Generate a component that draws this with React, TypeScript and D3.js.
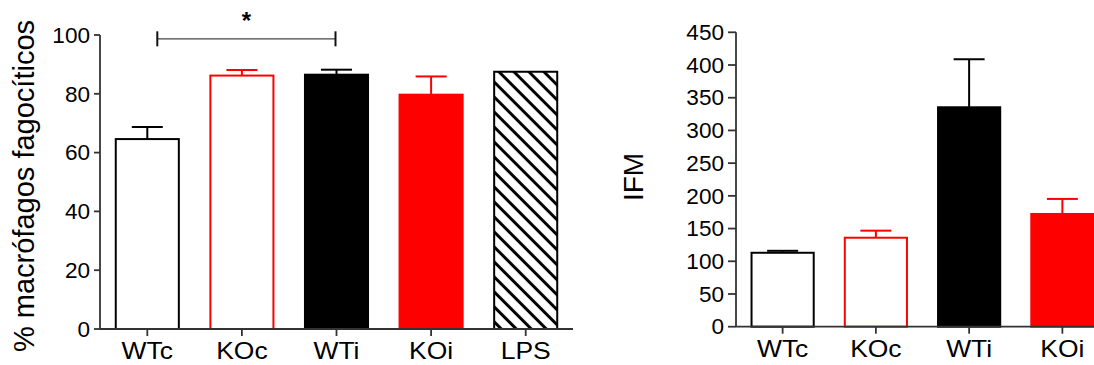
import React from "react";
import * as d3 from "d3";

// Phagocytosis (% of macrophages) per group
const leftCategories = ["WTc", "KOc", "WTi", "KOi", "LPS"];
const leftMeans = [64.6, 86.2, 86.5, 79.7, 87.5];
const leftErrors: (number | null)[] = [4.1, 1.9, 1.7, 6.2, null];
const leftTicks = [0, 20, 40, 60, 80, 100];

// Mean fluorescence intensity per group
const rightCategories = ["WTc", "KOc", "WTi", "KOi"];
const rightMeans = [113, 136, 335.4, 172.3];
const rightErrors = [3, 10.8, 73.4, 23];
const rightTicks = [0, 50, 100, 150, 200, 250, 300, 350, 400, 450];

// Significance bracket between two groups of the left panel
const bracketFrom = "WTc";
const bracketTo = "WTi";
const bracketLabel = "*";

const RED = "#ff0000";
const FONT = "'Liberation Sans', Arial, Helvetica, sans-serif";

type BarStyle = { fill: string; stroke: string; err: string };
const groupStyle: Record<string, BarStyle> = {
  WTc: { fill: "#ffffff", stroke: "#000000", err: "#000000" },
  KOc: { fill: "#ffffff", stroke: RED, err: RED },
  WTi: { fill: "#000000", stroke: "#000000", err: "#000000" },
  KOi: { fill: RED, stroke: RED, err: RED },
  LPS: { fill: "url(#hatch)", stroke: "#000000", err: "#000000" },
};

type PanelProps = {
  categories: string[];
  means: number[];
  errors: (number | null)[];
  ticks: number[];
  domainMax: number;
  x0: number;
  x1: number;
  yTop: number;
  yBottom: number;
  yTickLen: number;
  label: string;
  labelX: number;
  labelY: number;
  labelSize: number;
  children?: (x: d3.ScaleBand<string>, y: d3.ScaleLinear<number, number>) => React.ReactNode;
};

function Panel(p: PanelProps) {
  const x = d3
    .scaleBand<string>()
    .domain(p.categories)
    .range([p.x0, p.x1])
    .paddingInner(1 / 3)
    .paddingOuter(1 / 6);
  const y = d3.scaleLinear().domain([0, p.domainMax]).range([p.yBottom, p.yTop]);
  const bw = x.bandwidth();
  const capW = 31;
  const axisColor = "#333333";

  return (
    <g>
      {/* bars */}
      {p.categories.map((c, i) => {
        const st = groupStyle[c];
        const bx = x(c)!;
        const top = y(p.means[i]);
        return (
          <rect
            key={"b" + c}
            x={bx}
            y={top}
            width={bw}
            height={y(0) - top}
            fill={st.fill}
            stroke={st.stroke}
            strokeWidth={2}
          />
        );
      })}
      {/* upward error bars */}
      {p.categories.map((c, i) => {
        const e = p.errors[i];
        if (e == null) return null;
        const st = groupStyle[c];
        const cx = x(c)! + bw / 2;
        const yt = y(p.means[i]);
        const ye = y(p.means[i] + e);
        return (
          <g key={"e" + c} stroke={st.err} strokeWidth={2}>
            <line x1={cx} x2={cx} y1={yt} y2={ye} />
            <line x1={cx - capW / 2} x2={cx + capW / 2} y1={ye} y2={ye} />
          </g>
        );
      })}
      {/* y axis */}
      <line x1={p.x0} x2={p.x0} y1={y(p.domainMax)} y2={y(0)} stroke={axisColor} strokeWidth={1.8} />
      {p.ticks.map((t) => (
        <g key={"yt" + t}>
          <line x1={p.x0 - p.yTickLen} x2={p.x0} y1={y(t)} y2={y(t)} stroke={axisColor} strokeWidth={1.8} />
          <text
            transform={`translate(${p.x0 - p.yTickLen - 4},${y(t)}) scale(1.05,1)`}
            dy="0.36em"
            textAnchor="end"
            fontFamily={FONT}
            fontSize={21.5}
            fill="#000"
          >
            {t}
          </text>
        </g>
      ))}
      {/* x axis */}
      <line x1={p.x0} x2={p.x1} y1={y(0)} y2={y(0)} stroke={axisColor} strokeWidth={1.8} />
      {p.categories.map((c) => {
        const cx = x(c)! + bw / 2;
        return (
          <g key={"xt" + c}>
            <line x1={cx} x2={cx} y1={y(0)} y2={y(0) + 7} stroke={axisColor} strokeWidth={1.8} />
            <text
              transform={`translate(${cx},${y(0) + 30}) scale(1.15,1)`}
              textAnchor="middle"
              fontFamily={FONT}
              fontSize={23}
              fill="#000"
            >
              {c}
            </text>
          </g>
        );
      })}
      {/* axis title */}
      <text
        transform={`translate(${p.labelX},${p.labelY}) rotate(-90)`}
        textAnchor="middle"
        fontFamily={FONT}
        fontSize={p.labelSize}
        fill="#000"
      >
        {p.label}
      </text>
      {p.children ? p.children(x, y) : null}
    </g>
  );
}

export default function App() {
  return (
    <svg
      width={1094}
      height={365}
      viewBox="0 0 1094 365"
      style={{ position: "absolute", left: 0, top: 0, background: "#fff" }}
    >
      <defs>
        <pattern
          id="hatch"
          patternUnits="userSpaceOnUse"
          width={10}
          height={10.6}
          patternTransform="rotate(45)"
        >
          <rect width={10} height={10.6} fill="#fff" />
          <line x1={0} x2={10} y1={5.3} y2={5.3} stroke="#000" strokeWidth={3} />
        </pattern>
      </defs>
      <rect width={1094} height={365} fill="#fff" />

      <Panel
        categories={leftCategories}
        means={leftMeans}
        errors={leftErrors}
        ticks={leftTicks}
        domainMax={100}
        x0={100}
        x1={573}
        yTop={35}
        yBottom={329}
        yTickLen={6}
        label="% macrófagos fagocíticos"
        labelX={34}
        labelY={186}
        labelSize={29}
      >
        {(x, y) => {
          const bw = x.bandwidth();
          const xa = x(bracketFrom)! + bw / 2 + 10;
          const xb = x(bracketTo)! + bw / 2 - 1;
          const yb = y(98.7);
          return (
            <g>
              <line x1={xa} x2={xb} y1={yb} y2={yb} stroke="#444" strokeWidth={1.3} />
              <line x1={xa} x2={xa} y1={yb - 7.5} y2={yb + 7.5} stroke="#111" strokeWidth={2} />
              <line x1={xb} x2={xb} y1={yb - 7.5} y2={yb + 7.5} stroke="#111" strokeWidth={2} />
              <text
                x={(xa + xb) / 2}
                y={yb - 10}
                textAnchor="middle"
                fontFamily={FONT}
                fontSize={24}
                fontWeight="bold"
                fill="#000"
              >
                {bracketLabel}
              </text>
            </g>
          );
        }}
      </Panel>

      <Panel
        categories={rightCategories}
        means={rightMeans}
        errors={rightErrors}
        ticks={rightTicks}
        domainMax={450}
        x0={736}
        x1={1109}
        yTop={32.3}
        yBottom={326.7}
        yTickLen={8}
        label="IFM"
        labelX={643}
        labelY={177}
        labelSize={28}
      />
    </svg>
  );
}
